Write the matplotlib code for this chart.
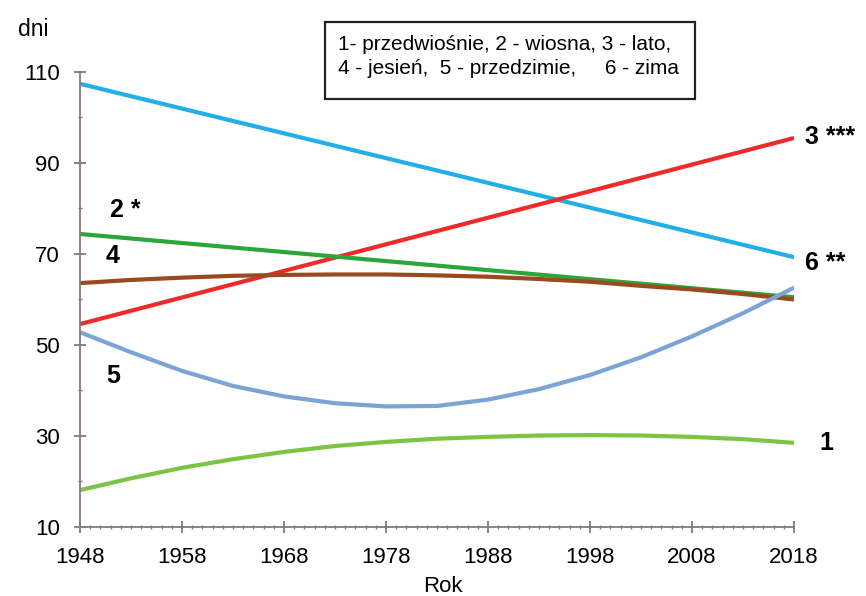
import matplotlib.pyplot as plt
from matplotlib.patches import Rectangle
from matplotlib.ticker import MultipleLocator

plt.rcParams['font.family'] = ['Liberation Sans', 'DejaVu Sans']

# lata co 5 (krzywe) i końce prostych
years = [1948, 1953, 1958, 1963, 1968, 1973, 1978, 1983, 1988, 1993, 1998, 2003, 2008, 2013, 2018]
ends = [1948, 2018]

przedwiosnie = [18.1, 20.7, 23.0, 24.9, 26.5, 27.8, 28.7, 29.4, 29.8, 30.1, 30.2, 30.1, 29.8, 29.3, 28.5]
wiosna = [74.4, 60.5]
lato = [54.6, 95.5]
jesien = [63.6, 64.3, 64.8, 65.2, 65.4, 65.5, 65.5, 65.3, 65.0, 64.5, 63.9, 63.0, 62.2, 61.2, 60.0]
przedzimie = [52.8, 48.4, 44.3, 41.0, 38.7, 37.2, 36.5, 36.6, 38.0, 40.3, 43.4, 47.3, 51.9, 57.0, 62.6]
zima = [107.4, 69.3]

fig = plt.figure(figsize=(8.66, 5.96), dpi=100)
ax = fig.add_axes([0.0924, 0.1158, 0.8245, 0.7634])

lw = 3.0
ax.plot(ends, zima, color='#22aee6', lw=lw, solid_capstyle='butt')
ax.plot(ends, lato, color='#ee2a2a', lw=lw, solid_capstyle='butt')
ax.plot(ends, wiosna, color='#2ca53a', lw=lw, solid_capstyle='butt')
ax.plot(years, jesien, color='#9a4a1e', lw=lw, solid_capstyle='butt')
ax.plot(years, przedzimie, color='#7ba3d4', lw=lw, solid_capstyle='butt', solid_joinstyle='round')
ax.plot(years, przedwiosnie, color='#7cc444', lw=lw, solid_capstyle='butt', solid_joinstyle='round')

ax.set_xlim(1948, 2018)
ax.set_ylim(10, 110)
ax.set_xticks(range(1948, 2019, 10))
ax.set_yticks(range(10, 111, 20))
ax.xaxis.set_minor_locator(MultipleLocator(1))
ax.yaxis.set_minor_locator(MultipleLocator(10))

axis_col = '#857a78'
for s in ['top', 'right']:
    ax.spines[s].set_visible(False)
for s in ['left', 'bottom']:
    ax.spines[s].set_color(axis_col)
    ax.spines[s].set_linewidth(1.3)

ax.tick_params(which='major', direction='inout', length=9, width=1.3, color=axis_col,
               labelsize=16, pad=10)
ax.tick_params(which='minor', direction='inout', length=3.5, width=1.0, color=axis_col)
ax.tick_params(axis='y', which='major', pad=10)

# etykiety serii
lab = dict(fontsize=18, fontweight='bold', va='center', ha='left')
ax.text(1950.9, 79.7, '2 *', **lab)
ax.text(1950.5, 69.6, '4', **lab)
ax.text(1950.6, 43.2, '5', **lab)
ax.text(2019.1, 95.7, '3 ***', clip_on=False, **lab)
ax.text(2019.1, 68.0, '6 **', clip_on=False, **lab)
ax.text(2020.5, 28.5, '1', clip_on=False, **lab)

fig.text(18 / 866, 1 - 30 / 596, 'dni', fontsize=16.5, va='center', ha='left')
fig.text(443 / 866, 1 - 586 / 596, 'Rok', fontsize=16, va='center', ha='center')

# legenda w ramce
fig.patches.append(Rectangle((325 / 866, 1 - 99 / 596), 370 / 866, 77 / 596,
                             transform=fig.transFigure, fill=False, ec='#222222', lw=1.6))
fig.text(338 / 866, 1 - 45 / 596, '1- przedwiośnie, 2 - wiosna, 3 - lato,', fontsize=15, va='center')
fig.text(338 / 866, 1 - 69 / 596, '4 - jesień,  5 - przedzimie,     6 - zima', fontsize=15, va='center')

fig.savefig('out.png', dpi=100, facecolor='white')
